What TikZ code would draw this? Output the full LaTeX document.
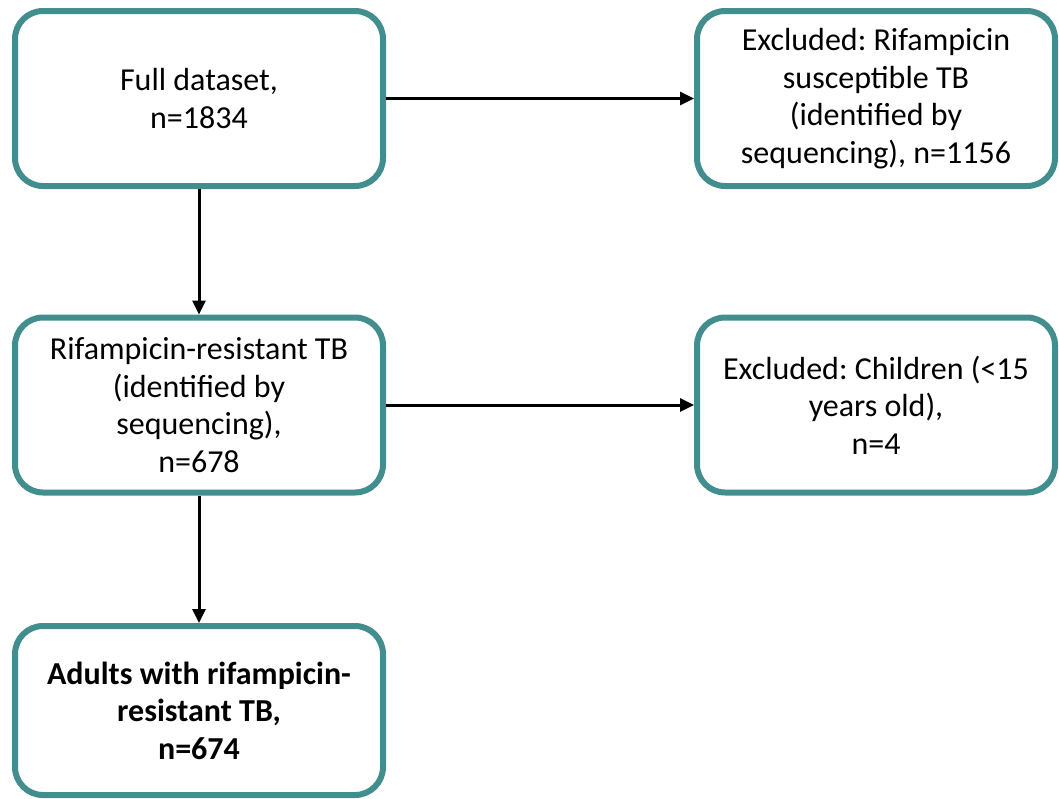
\documentclass[tikz,border=0pt]{standalone}
\usepackage{fontspec}
\setmainfont{Carlito}
\usetikzlibrary{arrows.meta}
\definecolor{teal}{RGB}{66,141,142}
\frenchspacing
\tikzset{
  box/.style={draw=teal, line width=6pt, rounded corners=28pt, fill=white,
    minimum width=#1, minimum height=175pt, inner sep=0pt, align=center,
    font=\fontsize{32pt}{37.5pt}\selectfont},
  box/.default=368pt,
  conn/.style={line width=3pt, -{Triangle[length=14pt,width=13pt]}}
}
\begin{document}
\begin{tikzpicture}[x=1pt,y=-1pt]
\useasboundingbox (0,0) rectangle (1059,798);
\node[box] (full) at (199,98.5) {Full dataset,\\n=1834};
\node[box=358pt] (exc1) at (876,98.5) {Excluded: Rifampicin\\susceptible TB\\(identified by\\sequencing), n=1156};
\node[box] (rr) at (199,405) {Rifampicin-resistant TB\\(identified by\\sequencing),\\n=678};
\node[box=358pt] (exc2) at (876,405) {Excluded: Children (<15\\years old),\\n=4};
\node[box, minimum height=169pt] (adults) at (199,710.5) {\bfseries Adults with rifampicin-\\\bfseries resistant TB,\\\bfseries n=674};
\draw[conn] (full.east) -- (exc1.west);
\draw[conn] (full.south) -- (rr.north);
\draw[conn] (rr.east) -- (exc2.west);
\draw[conn] (rr.south) -- (adults.north);
\end{tikzpicture}
\end{document}
